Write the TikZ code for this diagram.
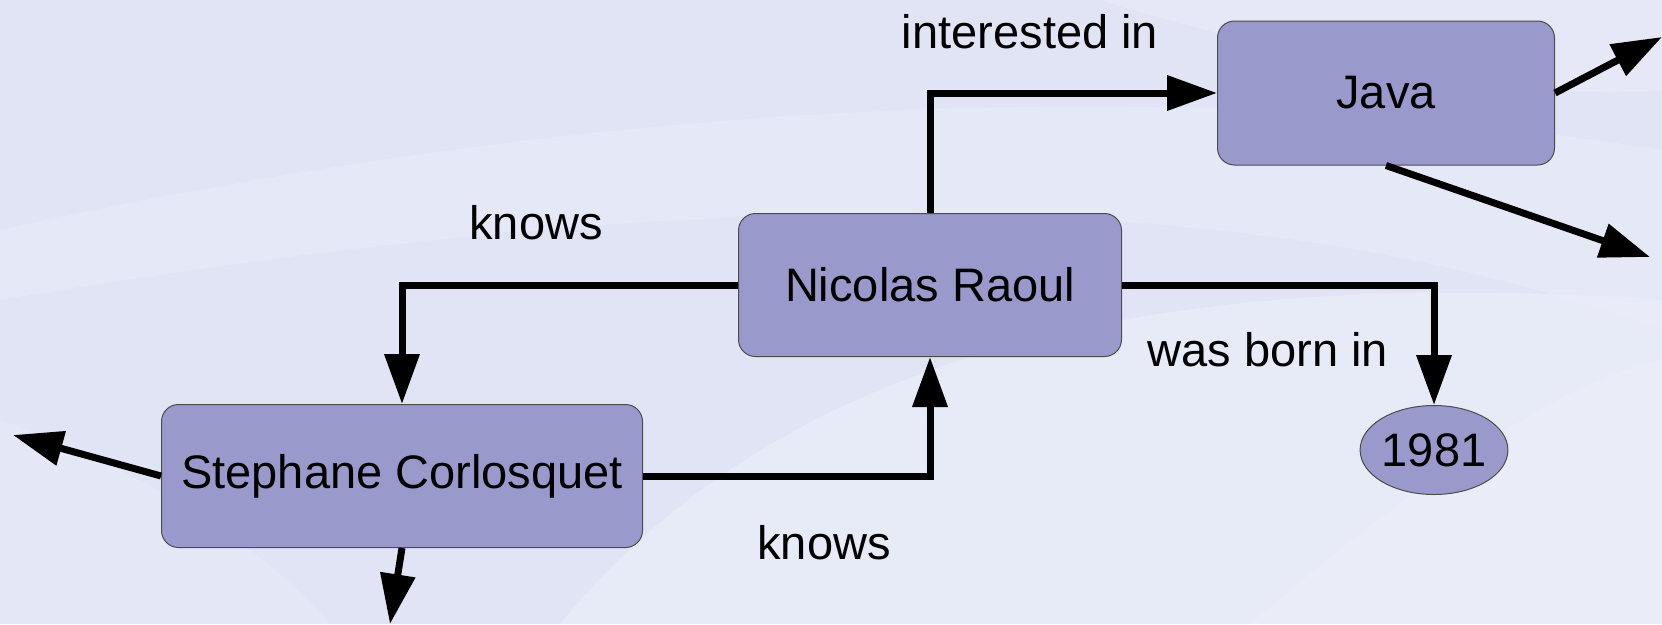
\documentclass[tikz,border=0pt]{standalone}
\usepackage{fontspec}
\setmainfont{Liberation Sans}
\usetikzlibrary{arrows.meta,shapes.geometric}

\definecolor{resfill}{HTML}{9999CC}
\definecolor{bgbase}{HTML}{E1E4F5}
\definecolor{bglight}{HTML}{EEF0FA}

\tikzset{
  resource/.style={draw=black!70, line width=1pt, fill=resfill, rounded corners=17pt,
    inner sep=0pt, font=\fontsize{47}{56}\selectfont},
  literal/.style={draw=black!70, line width=1pt, fill=resfill, ellipse,
    inner sep=0pt, font=\fontsize{47}{56}\selectfont},
  link/.style={line width=7pt, -{Triangle[length=50pt,width=34pt]}},
  prop/.style={font=\fontsize{47}{56}\selectfont},
}

\begin{document}
\begin{tikzpicture}[x={(1pt,0pt)}, y={(0pt,-1pt)}]

    % fond
    \useasboundingbox (0,0) rectangle (1662,624);
    \fill[bgbase] (0,0) rectangle (1662,624);
    \fill[bglight, opacity=0.35] (0,230) .. controls (500,120) and (1100,60) .. (1662,150)
        -- (1662,330) .. controls (1200,160) and (600,200) .. (0,300) -- cycle;
    \fill[bglight, opacity=0.5] (560,624) .. controls (760,380) and (1100,260) .. (1662,300)
        -- (1662,624) -- cycle;
    \fill[bglight, opacity=0.4] (1100,0) .. controls (1300,60) and (1500,100) .. (1662,90)
        -- (1662,0) -- cycle;
    \fill[white, opacity=0.15] (1250,624) .. controls (1420,480) and (1560,380) .. (1662,360)
        -- (1662,624) -- cycle;
    \fill[white, opacity=0.12] (0,420) .. controls (120,460) and (260,540) .. (330,624)
        -- (0,624) -- cycle;

    % noeuds
    \node[resource, minimum width=383pt, minimum height=143pt] (nicolas) at (930,285) {Nicolas Raoul};
    \node[resource, minimum width=337pt, minimum height=144pt] (java) at (1386,93) {Java};
    \node[resource, minimum width=481pt, minimum height=143pt] (stephane) at (402,476) {Stephane Corlosquet};
    \node[literal, minimum width=144pt, minimum height=89pt] (year) at (1434,450) {1981};

    % extrémités libres
    \coordinate (javaA) at (1662,37);
    \coordinate (javaB) at (1650,257);
    \coordinate (stephA) at (13,435);
    \coordinate (stephB) at (390,624);

    % liens
    \draw[link] (nicolas.north) |- (java.west);
    \draw[link] (nicolas.west) -| (stephane.north);
    \draw[link] (stephane.east) -| (nicolas.south);
    \draw[link] (nicolas.east) -| (year.north);
    \draw[link] (java.east) -- (javaA);
    \draw[link] (java.south) -- (javaB);
    \draw[link] (stephane.west) -- (stephA);
    \draw[link] (stephane.south) -- (stephB);

    % propriétés
    \node[prop] (pInterest) at (1030,32) {interested in};
    \node[prop] (pKnowsA) at (536,223) {knows};
    \node[prop] (pBorn) at (1268,350) {was born in};
    \node[prop] (pKnowsB) at (824,543) {knows};

\end{tikzpicture}
\end{document}
